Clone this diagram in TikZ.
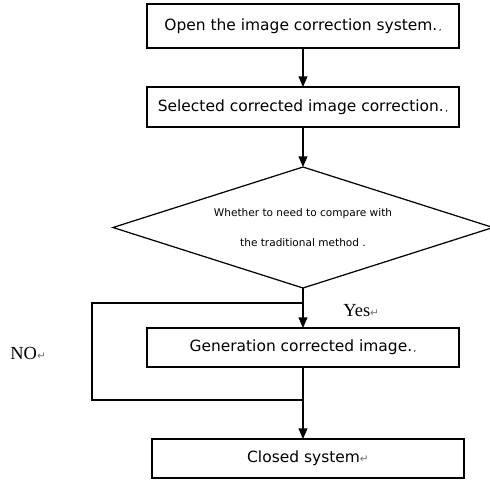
\documentclass[tikz,border=0pt]{standalone}
\usepackage{fontspec}
\setmainfont{DejaVu Sans}
\newfontfamily\serifface{Liberation Serif}
\newfontfamily\markface{DejaVu Sans}
\usepackage{tikz}
\usetikzlibrary{
  shapes.geometric,
  arrows.meta,
  positioning
}
\newcommand{\parmark}{{\markface\color{black!55}\fontsize{6}{6}\selectfont ↵}}
\newcommand{\dotmark}{{\fontsize{5}{5}\selectfont\,,}}
\tikzset{
  procbox/.style={
    rectangle, outer sep=0pt,
    minimum width=6.24cm, minimum height=0.78cm,
    text centered, font=\fontsize{8.8}{10}\selectfont,
    draw=black, fill=white, text=black, line width=0.7pt
  },
  decbox/.style={
    diamond, aspect=3.1, inner sep=0pt, outer sep=0pt,
    minimum width=7.6cm, minimum height=2.42cm,
    text centered, font=\fontsize{6}{17}\selectfont,
    draw=black, fill=white, text=black, line width=0.7pt
  },
  lbl/.style={
    inner sep=0pt, font=\serifface\fontsize{10.5}{12}\selectfont, text=black
  },
  flowarrow/.style={-{Triangle[width=5pt,length=6pt]}, line width=0.7pt, color=black},
  flowline/.style={line width=0.7pt, color=black}
}

\begin{document}
\begin{tikzpicture}[
  node distance = 0.8cm,
  every node/.style = {align=center}
]
  \useasboundingbox (0,0) rectangle (9.8,-9.6);

  \node[procbox, minimum height=0.88cm] (open) at (6.06,-0.52)
    {Open the image correction system.\dotmark};
  \node[procbox, minimum height=0.8cm, below=0.78cm of open] (sel)
    {Selected corrected image correction.\dotmark};
  \node[decbox, below=0.8cm of sel] (cmp)
    {Whether to need to compare with\\the traditional method .};
  \node[procbox, below=0.8cm of cmp] (gen)
    {Generation corrected image.\dotmark};
  \node[procbox, below=1.44cm of gen, xshift=0.1cm] (close)
    {Closed system\parmark};

  \foreach \a/\b in {open/sel, sel/cmp, cmp/gen}{
    \draw[flowarrow] (\a) -- (\b);
  }
  \draw[flowarrow] (gen.south) -- (gen.south |- close.north);

  % NO branch skips the generation step
  \coordinate[below=0.3cm of cmp.south] (split);
  \coordinate[below=0.66cm of gen.south] (merge);
  \draw[flowline] (split) -- ++(-4.22,0) |- (merge);

  \node[lbl, anchor=west] (yes) at (6.86,-6.22) {Yes\parmark};
  \node[lbl, anchor=west] (no) at (0.2,-7.06) {NO\parmark};

\end{tikzpicture}
\end{document}
